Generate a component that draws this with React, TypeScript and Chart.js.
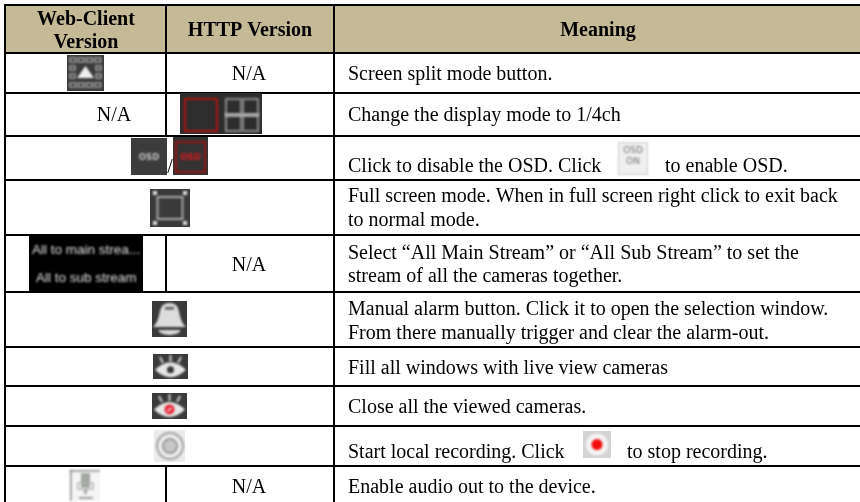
import React, { useEffect, useRef } from "react";
import { Chart, registerables } from "chart.js";

Chart.register(...registerables);

const W = 860;
const H = 502;

const headerTitles = ["Web-Client", "Version", "HTTP Version", "Meaning"];
const notAvailable = "N/A";
const leftEdge = 5;
const columnOne = 166;
const columnTwo = 334;
const rowEdges = [5, 53, 93, 136, 180, 235, 292, 347, 386, 426, 466];
const columnOneSpans = [[5, 136], [235, 292], [466, 502]];

const meaningLines: [string, number, number][] = [
  ["Screen split mode button.", 348, 80],
  ["Change the display mode to 1/4ch", 348, 121],
  ["Click to disable the OSD. Click", 348, 172],
  ["to enable OSD.", 665, 172],
  ["Full screen mode. When in full screen right click to exit back", 348, 202],
  ["to normal mode.", 348, 226],
  ["Select \u201CAll Main Stream\u201D or \u201CAll Sub Stream\u201D to set the", 348, 259],
  ["stream of all the cameras together.", 348, 282],
  ["Manual alarm button. Click it to open the selection window.", 348, 315],
  ["From there manually trigger and clear the alarm-out.", 348, 339],
  ["Fill all windows with live view cameras", 348, 374],
  ["Close all the viewed cameras.", 348, 413],
  ["Start local recording. Click", 348, 458],
  ["to stop recording.", 627, 458],
  ["Enable audio out to the device.", 348, 493],
];
const naCells: [number, number][] = [[249, 80], [114, 121], [249, 271], [249, 493]];

const rule = (x1: number, y1: number, x2: number, y2: number) => ({
  data: [{ x: x1, y: y1 }, { x: x2, y: y2 }],
  showLine: true,
  borderColor: "#000",
  borderWidth: 2,
  pointRadius: 0,
});

const rules = [
  ...rowEdges.map((y) => rule(leftEdge - 1, y, W, y)),
  rule(leftEdge, 4, leftEdge, H),
  rule(columnTwo, 4, columnTwo, H),
  ...columnOneSpans.map(([a, b]) => rule(columnOne, a, columnOne, b)),
];

type Ctx = CanvasRenderingContext2D;

function box(c: Ctx, x: number, y: number, w: number, h: number, col: string) {
  c.fillStyle = col;
  c.fillRect(x, y, w, h);
}
function frame(c: Ctx, x: number, y: number, w: number, h: number, col: string, lw: number) {
  c.strokeStyle = col;
  c.lineWidth = lw;
  c.strokeRect(x, y, w, h);
}
function flat(c: Ctx, x: number, y: number, w: number, h: number, col: string) {
  c.save();
  c.filter = "none";
  box(c, x, y, w, h, col);
  c.restore();
}

function eye(c: Ctx, x: number, y: number, h: number, pupil: string, r: number) {
  flat(c, x, y, 35, h, "#3a3a3a");
  const cx = x + 17.5;
  const cy = y + h * 0.63;
  c.fillStyle = "#e6e6e6";
  c.beginPath();
  c.moveTo(x + 2, cy);
  c.quadraticCurveTo(cx, cy - 15, x + 33, cy);
  c.quadraticCurveTo(cx, cy + 15, x + 2, cy);
  c.fill();
  c.fillStyle = pupil;
  c.beginPath();
  c.arc(cx, cy, r, 0, Math.PI * 2);
  c.fill();
  c.strokeStyle = "#d2d2d2";
  c.lineWidth = 2;
  c.beginPath();
  c.moveTo(cx, y + 1);
  c.lineTo(cx, y + 8);
  c.moveTo(x + 7, y + 3);
  c.lineTo(x + 10, y + 9);
  c.moveTo(x + 28, y + 3);
  c.lineTo(x + 25, y + 9);
  c.stroke();
}

function drawIcons(c: Ctx) {
  c.save();
  c.filter = "blur(0.85px)";

  // screen split
  flat(c, 67, 55, 37, 36, "#3b3b3b");
  c.strokeStyle = "#a4a4a4";
  c.lineWidth = 1.5;
  for (let i = 0; i < 4; i++) {
    c.strokeRect(70 + i * 8.2, 58, 6, 4);
    c.strokeRect(70 + i * 8.2, 83, 6, 4);
  }
  for (let i = 0; i < 2; i++) {
    c.strokeRect(70, 66 + i * 8, 5, 4);
    c.strokeRect(96, 66 + i * 8, 5, 4);
  }
  c.fillStyle = "#f0f0f0";
  c.beginPath();
  c.moveTo(85.5, 66);
  c.lineTo(94, 78);
  c.lineTo(77, 78);
  c.fill();

  // 1 / 4 channel
  flat(c, 180, 93, 82, 41, "#2d2d2d");
  frame(c, 185, 99, 32, 32, "#b01212", 2);
  frame(c, 226, 99, 15, 32, "#8c8c8c", 2);
  frame(c, 243, 99, 15, 32, "#8c8c8c", 2);
  box(c, 225, 113, 34, 4, "#a8a8a8");

  // OSD buttons
  flat(c, 131, 138, 36, 37, "#3c3c3c");
  c.font = "bold 8.5px 'DejaVu Sans'";
  c.textAlign = "center";
  c.fillStyle = "#c4c4c4";
  c.fillText("OSD", 149, 160);
  flat(c, 173, 137, 35, 38, "#333");
  frame(c, 176, 142, 29, 30, "#961414", 2);
  c.fillStyle = "#e01a1a";
  c.fillText("OSD", 190.5, 160);

  // full screen
  flat(c, 150, 189, 40, 38, "#3a3a3a");
  frame(c, 157.5, 197, 25, 22, "#a8a8a8", 2);
  c.fillStyle = "#e0e0e0";
  for (const [x, y] of [[153, 191], [183, 191], [153, 221], [183, 221]]) c.fillRect(x, y, 4, 4);

  // bell
  flat(c, 152, 301, 35, 36, "#3a3a3a");
  c.fillStyle = "#dcdcdc";
  c.beginPath();
  c.moveTo(169.5, 303);
  c.bezierCurveTo(183, 303, 176, 318, 186, 327);
  c.lineTo(153, 327);
  c.bezierCurveTo(163, 318, 156, 303, 169.5, 303);
  c.fill();
  c.beginPath();
  c.ellipse(169.5, 330, 11, 5, 0, 0, Math.PI);
  c.fill();
  box(c, 165, 307, 9, 2.5, "#555");

  eye(c, 153, 354, 25, "#333", 3.5);
  eye(c, 152, 393, 26, "#e8283c", 5);
  c.strokeStyle = "#fff";
  c.lineWidth = 1.4;
  c.beginPath();
  c.moveTo(167.5, 411);
  c.lineTo(171.5, 408);
  c.stroke();

  // record
  flat(c, 154, 430, 31, 32, "#ececec");
  c.strokeStyle = "#a0a0a0";
  c.lineWidth = 2;
  c.beginPath();
  c.arc(170, 446, 13, 0, Math.PI * 2);
  c.stroke();
  c.fillStyle = "#c6c6c6";
  c.beginPath();
  c.arc(170, 446, 7, 0, Math.PI * 2);
  c.fill();
  c.strokeStyle = "#888";
  c.lineWidth = 1.5;
  c.stroke();

  // microphone
  flat(c, 71, 471, 29, 30, "#f5f5f5");
  box(c, 70, 470, 1.5, 31, "#8a8a8a");
  box(c, 70, 470, 30, 1.5, "#8a8a8a");
  box(c, 81, 473, 9, 15, "#a3a7a3");
  frame(c, 78, 483, 15, 6, "#b0b4b0", 1.5);
  box(c, 84, 489, 3, 5, "#a8a8a8");
  box(c, 79, 497, 14, 2, "#a0a0a0");

  // OSD ON
  flat(c, 618, 142, 30, 33, "#f0f0f0");
  frame(c, 618.5, 142.5, 29, 32, "#d5d5d5", 1);
  c.font = "9px 'DejaVu Sans'";
  c.fillStyle = "#707070";
  c.fillText("OSD", 633, 153);
  c.fillText("ON", 633, 164);

  // stop record
  flat(c, 583, 431, 28, 27, "#d4d4d4");
  c.fillStyle = "#f4f4f4";
  c.beginPath();
  c.arc(597, 444.5, 11, 0, Math.PI * 2);
  c.fill();
  c.fillStyle = "#f20d0d";
  c.beginPath();
  c.arc(597, 444.5, 5.5, 0, Math.PI * 2);
  c.fill();

  // stream buttons
  flat(c, 29, 236, 114, 56, "#000");
  c.textAlign = "left";
  c.fillStyle = "#e0e0e0";
  c.font = "13.5px 'Liberation Sans'";
  c.fillText("All to main strea...", 32, 254);
  c.fillText("All to sub stream", 36, 282);
  c.restore();
}

const tablePlugin = {
  id: "tablePlugin",
  beforeDatasetsDraw(chart: any) {
    const { ctx: c, scales } = chart;
    const x = scales.x;
    const y = scales.y;
    c.save();
    c.fillStyle = "#c4ba95";
    c.fillRect(x.getPixelForValue(leftEdge), y.getPixelForValue(rowEdges[0]), W, y.getPixelForValue(rowEdges[1]) - y.getPixelForValue(rowEdges[0]));
    c.restore();
  },
  afterDatasetsDraw(chart: any) {
    const { ctx: c, scales } = chart;
    const x = scales.x;
    const y = scales.y;
    const put = (t: string, a: number, b: number) => c.fillText(t, x.getPixelForValue(a), y.getPixelForValue(b));
    drawIcons(c);
    c.save();
    c.fillStyle = "#000";
    c.textAlign = "center";
    c.textBaseline = "alphabetic";
    c.font = "bold 20px 'Liberation Serif'";
    put(headerTitles[0], 86, 25);
    put(headerTitles[1], 86, 48);
    put(headerTitles[2], 250, 36);
    put(headerTitles[3], 598, 36);
    c.font = "20px 'Liberation Serif'";
    naCells.forEach(([a, b]) => put(notAvailable, a, b));
    put("/", 170, 173);
    c.textAlign = "left";
    meaningLines.forEach(([t, a, b]) => put(t, a, b));
    c.restore();
  },
};

export default function App() {
  const ref = useRef<HTMLCanvasElement>(null);
  useEffect(() => {
    const chart = new Chart(ref.current!, {
      type: "scatter",
      data: { datasets: rules as any },
      options: {
        animation: false,
        responsive: false,
        events: [],
        layout: { padding: 0 },
        plugins: { legend: { display: false }, tooltip: { enabled: false } },
        scales: {
          x: { type: "linear", display: false, min: 0, max: W },
          y: { type: "linear", display: false, min: 0, max: H, reverse: true },
        },
      },
      plugins: [tablePlugin],
    });
    return () => chart.destroy();
  }, []);
  return (
    <div style={{ position: "fixed", left: 0, top: 0, width: W, height: H, background: "#fff" }}>
      <canvas ref={ref} width={W} height={H} style={{ display: "block" }} />
    </div>
  );
}
